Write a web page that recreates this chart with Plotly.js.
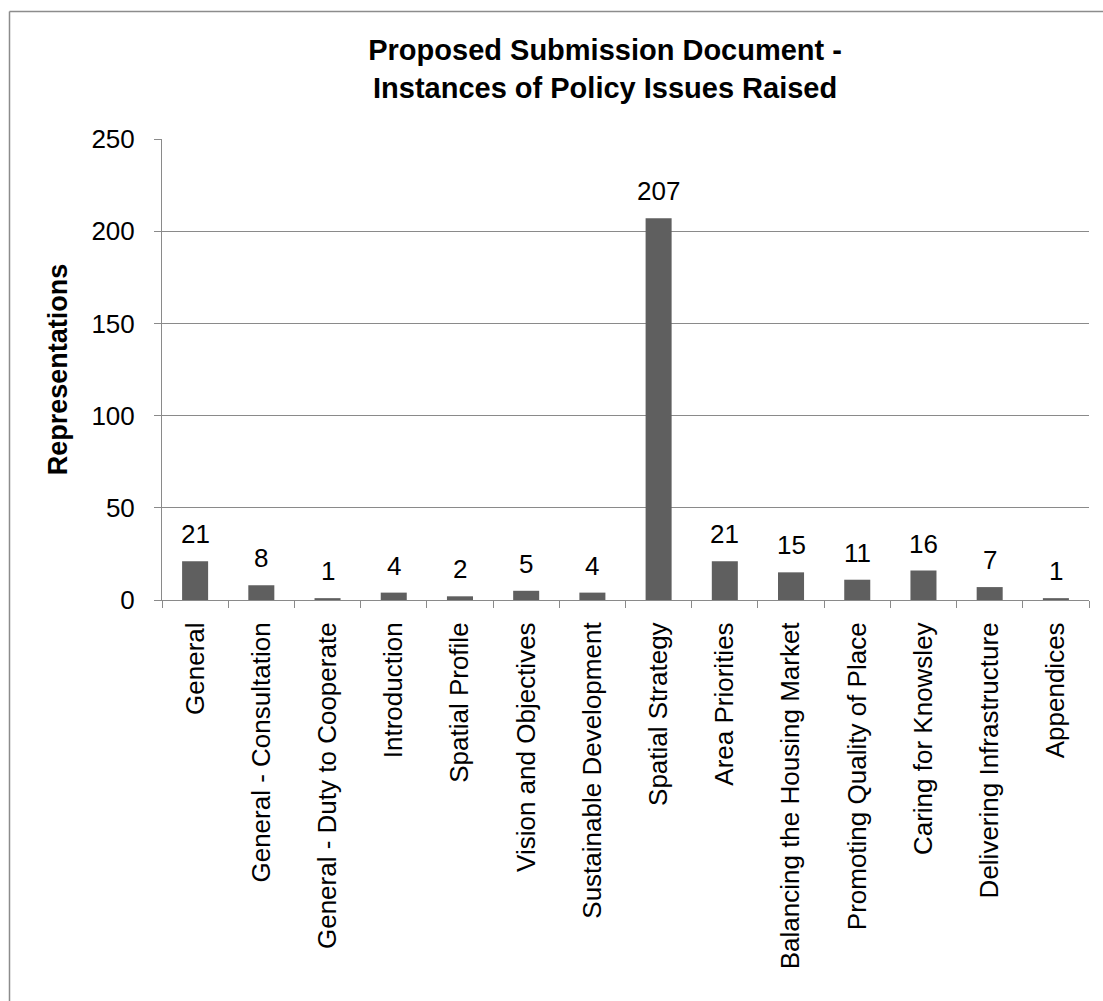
<!DOCTYPE html>
<html>
<head>
<meta charset="utf-8">
<script src="https://cdn.plot.ly/plotly-3.0.1.min.js"></script>
<style>html,body{margin:0;padding:0;background:#fff;}#chart{width:1103px;height:1001px;}</style>
</head>
<body>
<div id="chart"></div>
<script>
var categories = ["General", "General - Consultation", "General - Duty to Cooperate", "Introduction", "Spatial Profile", "Vision and Objectives", "Sustainable Development", "Spatial Strategy", "Area Priorities", "Balancing the Housing Market", "Promoting Quality of Place", "Caring for Knowsley", "Delivering Infrastructure", "Appendices"];
var representations = [21, 8, 1, 4, 2, 5, 4, 207, 21, 15, 11, 16, 7, 1];
var yTickValues = [0, 50, 100, 150, 200, 250];

var FONT = "Liberation Sans, Arial, sans-serif";
var GRID = "#8a8a8a";

var trace = {
  type: "bar",
  x: categories,
  y: representations,
  marker: {color: "#5f5f5f"},
  hoverinfo: "x+y"
};

var annotations = categories.map(function (c, i) {
  return {
    x: c, y: representations[i], xref: "x", yref: "y",
    text: String(representations[i]), showarrow: false,
    yanchor: "bottom", yshift: 10,
    font: {family: FONT, size: 26, color: "#000"}
  };
});

// Plot area: x 162..1089, y 139..600
var layout = {
  width: 1103, height: 1001,
  margin: {l: 162, r: 14, t: 139, b: 401, pad: 0},
  paper_bgcolor: "#fff", plot_bgcolor: "#fff",
  showlegend: false,
  bargap: 0.607,
  font: {family: FONT, size: 26, color: "#000"},
  title: {
    text: "<b>Proposed Submission Document -<br>Instances of Policy Issues Raised</b>",
    font: {family: FONT, size: 29, color: "#000"},
    x: 0.478, xref: "paper", xanchor: "center",
    y: 1 - 60 / 1001, yref: "container", yanchor: "top"
  },
  xaxis: {
    type: "category",
    tickangle: -90,
    tickson: "boundaries",
    ticks: "outside", ticklen: 7, tickcolor: GRID, tickwidth: 1,
    ticklabelstandoff: 11,
    showline: true, linecolor: GRID, linewidth: 1,
    showgrid: false,
    tickfont: {family: FONT, size: 26, color: "#000"}
  },
  yaxis: {
    range: [0, 250],
    tickvals: yTickValues,
    ticktext: yTickValues.map(String),
    ticks: "outside", ticklen: 7, tickcolor: GRID, tickwidth: 1,
    ticklabelstandoff: 14,
    showline: true, linecolor: GRID, linewidth: 1,
    showgrid: true, gridcolor: GRID, gridwidth: 1,
    zeroline: false,
    tickfont: {family: FONT, size: 26, color: "#000"},
    title: {text: "<b>Representations</b>", font: {family: FONT, size: 27, color: "#000"}, standoff: 15}
  },
  annotations: annotations,
  shapes: [
    {type: "line", xref: "paper", yref: "paper", x0: (9.5 - 162) / 927, x1: (9.5 - 162) / 927, y0: -1, y1: (600 - 11.5) / 461, line: {color: "#8c8c8c", width: 1.5}},
    {type: "line", xref: "paper", yref: "paper", x0: (9.5 - 162) / 927, x1: 1.2, y0: (600 - 11.5) / 461, y1: (600 - 11.5) / 461, line: {color: "#8c8c8c", width: 1.5}}
  ]
};

Plotly.newPlot("chart", [trace], layout, {displayModeBar: false, staticPlot: true});
</script>
</body>
</html>
